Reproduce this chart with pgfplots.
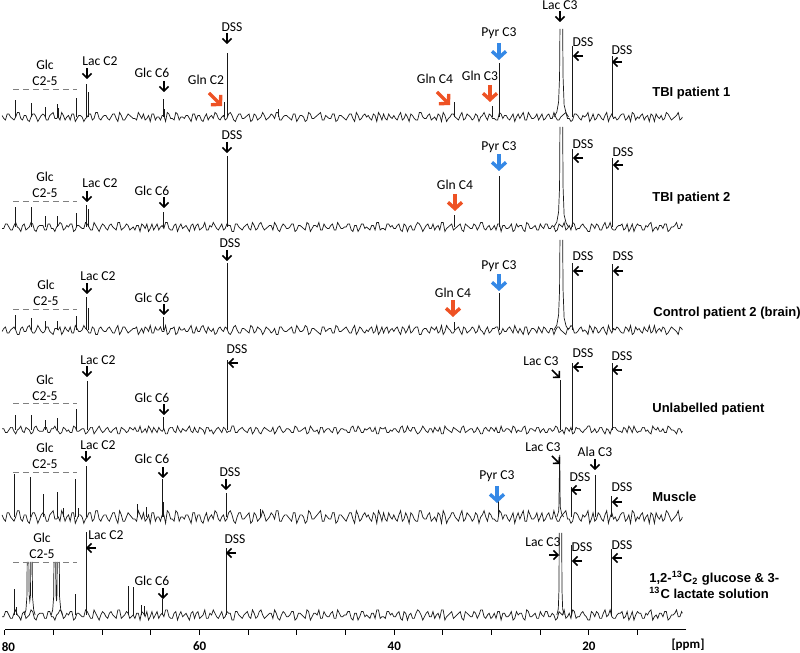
\documentclass[border=0pt]{standalone}
\usepackage{pgfplots}
\pgfplotsset{compat=1.18}
\usepackage{pgfplotstable}
\usepackage{fontspec}
\setmainfont{Carlito}
\newfontfamily\hv{Liberation Sans}
\usetikzlibrary{arrows.meta}

\definecolor{spec}{RGB}{25,25,25}
\definecolor{pyr}{RGB}{52,136,230}
\definecolor{gln}{RGB}{238,82,36}

% baseline noise, read off by eye (ppm, two traces)
\pgfplotstableread{
x c d
80.300 1 -1
80.125 -1 -1
79.950 -2 2
79.775 2 2
79.600 2 0
79.425 0 -2
79.250 -1 -2
79.075 -2 1
78.900 0 3
78.725 3 0
78.550 3 -1
78.375 -1 -3
78.200 -2 1
78.025 1 2
77.850 1 -2
77.675 -2 -1
77.500 -3 0
77.325 0 3
77.150 2 2
76.975 2 -2
76.800 0 -3
76.625 -3 0
76.450 -1 1
76.275 1 1
76.100 2 1
75.925 1 -2
75.750 -2 -2
75.575 -2 2
75.400 1 2
75.225 2 -1
75.050 3 -1
74.875 -1 -3
74.700 -1 0
74.525 0 1
74.350 -2 3
74.175 3 2
74.000 1 -2
73.825 -2 -1
73.650 0 1
73.475 1 0
73.300 -2 2
73.125 2 2
72.950 2 -3
72.775 -3 -2
72.600 -1 1
72.425 1 1
72.250 1 0
72.075 0 -1
71.900 -3 -1
71.725 -1 3
71.550 0 2
71.375 2 0
71.200 2 -2
71.025 -2 -2
70.850 -1 3
70.675 3 1
70.500 3 -1
70.325 -1 -3
70.150 -2 0
69.975 0 2
69.800 1 1
69.625 1 -1
69.450 -1 -2
69.275 -2 1
69.100 0 2
68.925 2 0
68.750 2 -1
68.575 -1 -2
68.400 -3 3
68.225 3 3
68.050 1 -2
67.875 -2 -1
67.700 -2 0
67.525 0 2
67.350 2 1
67.175 1 -2
67.000 0 -1
66.825 -1 0
66.650 -1 -2
66.475 -2 1
66.300 3 1
66.125 1 -3
65.950 -1 2
65.775 2 1
65.600 -2 -1
65.425 -1 2
65.250 1 -3
65.075 -3 -1
64.900 2 2
64.725 2 -2
64.550 -2 0
64.375 0 2
64.200 0 -2
64.025 -2 0
63.850 1 1
63.675 1 -1
63.500 -3 3
63.325 3 3
63.150 2 -1
62.975 -1 -2
62.800 -1 -2
62.625 -2 1
62.450 3 2
62.275 2 -3
62.100 -2 0
61.925 0 2
61.750 0 -1
61.575 -1 0
61.400 1 1
61.225 1 -1
61.050 -1 -3
60.875 -3 1
60.700 2 2
60.525 2 -2
60.350 -2 1
60.175 1 2
60.000 1 -2
59.825 -2 -1
59.650 -3 0
59.475 0 3
59.300 2 -2
59.125 -2 -2
58.950 0 1
58.775 1 0
58.600 -1 3
58.425 3 1
58.250 2 -1
58.075 -1 -2
57.900 -2 0
57.725 0 2
57.550 1 -2
57.375 -2 -1
57.200 -1 2
57.025 2 1
56.850 3 1
56.675 1 -3
56.500 -2 -3
56.325 -3 2
56.150 0 2
55.975 2 0
55.800 2 -1
55.625 -1 -2
55.450 -1 0
55.275 0 1
55.100 1 2
54.925 2 -1
54.750 -3 -2
54.575 -2 3
54.400 2 1
54.225 1 -2
54.050 -2 -1
53.875 -1 2
53.700 0 3
53.525 3 0
53.350 1 -2
53.175 -2 -1
53.000 -1 0
52.825 0 1
52.650 2 1
52.475 1 -2
52.300 -1 3
52.125 3 1
51.950 3 -2
51.775 -2 -3
51.600 -2 0
51.425 0 2
51.250 1 1
51.075 1 -1
50.900 0 -1
50.725 -1 0
50.550 -2 2
50.375 2 2
50.200 2 -3
50.025 -3 -2
49.850 -1 1
49.675 1 1
49.500 1 0
49.325 0 -1
49.150 -3 -2
48.975 -2 3
48.800 3 2
48.625 2 -3
48.450 -1 -1
48.275 -1 1
48.100 0 1
47.925 1 0
47.750 2 3
47.575 3 -2
47.400 -2 -2
47.225 -2 2
47.050 1 0
46.875 0 -1
46.700 -1 -1
46.525 -1 1
46.350 2 2
46.175 2 -2
46.000 -3 -2
45.825 -2 3
45.650 1 1
45.475 1 -1
45.300 0 -1
45.125 -1 0
44.950 -2 0
44.775 0 2
44.600 2 2
44.425 2 -2
44.250 -1 -3
44.075 -3 1
43.900 3 1
43.725 1 -3
43.550 -2 -1
43.375 -1 2
43.200 1 2
43.025 2 -1
42.850 0 0
42.675 1 -1
42.500 -1 -2
42.325 -2 1
42.150 2 1
41.975 1 -2
41.800 -3 3
41.625 3 3
41.450 1 -2
41.275 -2 -1
41.100 2 -1
40.925 -1 -2
40.750 -2 2
40.575 2 2
40.400 0 0
40.225 -1 1
40.050 1 -1
39.875 -1 -1
39.700 -2 1
39.525 1 2
39.350 3 -2
39.175 -2 -3
39.000 -1 2
38.825 2 1
38.650 0 -3
38.475 -3 0
38.300 2 1
38.125 1 -2
37.950 -1 -2
37.775 -2 1
37.600 -2 3
37.425 3 2
37.250 3 0
37.075 0 -3
36.900 -1 -1
36.725 -1 1
36.550 1 2
36.375 2 -1
36.200 -2 -1
36.025 -1 2
35.850 0 -2
35.675 -2 0
35.500 2 1
35.325 1 -2
35.150 -3 3
34.975 3 3
34.800 1 -3
34.625 -3 -1
34.450 -1 0
34.275 0 1
34.100 2 2
33.925 2 -2
33.750 0 -1
33.575 -1 0
33.400 -2 1
33.225 1 2
33.050 3 -2
32.875 -2 -3
32.700 -1 2
32.525 2 1
32.350 1 0
32.175 0 -1
32.000 -2 -1
31.825 -1 2
31.650 2 1
31.475 1 -2
31.300 -3 0
31.125 0 3
30.950 1 3
30.775 3 -1
30.600 0 -2
30.425 -2 0
30.250 2 1
30.075 1 -2
29.900 -1 -1
29.725 -1 1
29.550 -2 -2
29.375 -2 2
29.200 3 2
29.025 2 -3
28.850 -1 1
28.675 1 1
28.500 1 -1
28.325 -1 -1
28.150 -2 0
27.975 0 2
27.800 2 -3
27.625 -3 -2
27.450 0 2
27.275 2 0
27.100 -1 1
26.925 1 1
26.750 3 -2
26.575 -2 -3
26.400 -2 3
26.225 3 2
26.050 1 -1
25.875 -1 -1
25.700 -1 0
25.525 0 1
25.350 2 -2
25.175 -2 -2
25.000 0 2
24.825 2 0
24.650 -2 -1
24.475 -1 2
24.300 1 2
24.125 2 -1
23.950 -1 -1
23.775 -1 1
23.600 3 0
23.425 0 -3
23.250 -2 -2
23.075 -2 2
22.900 0 1
22.725 1 0
22.550 2 3
22.375 3 -2
22.200 -1 -1
22.025 -1 1
21.850 -3 -2
21.675 -2 3
21.500 2 2
21.325 2 -2
21.150 1 -1
20.975 -1 -1
20.800 -2 1
20.625 1 2
20.450 0 0
20.275 1 -1
20.100 3 -3
19.925 -3 -3
19.750 -1 2
19.575 2 1
19.400 -2 -1
19.225 -1 2
19.050 2 1
18.875 1 -2
18.700 -1 -2
18.525 -2 1
18.350 1 3
18.175 3 -1
18.000 -3 0
17.825 0 3
17.650 2 -1
17.475 -1 -2
17.300 0 -2
17.125 -2 0
16.950 -1 1
16.775 1 1
16.600 2 2
16.425 2 -2
16.250 -2 -1
16.075 -1 2
15.900 1 -3
15.725 -3 -1
15.550 3 2
15.375 2 -3
15.200 -2 0
15.025 0 2
14.850 -1 1
14.675 1 1
14.500 2 -2
14.325 -2 -2
14.150 0 1
13.975 1 0
13.800 -3 2
13.625 2 3
13.450 1 -3
13.275 -3 -1
13.100 2 0
12.925 0 -2
12.750 -1 1
12.575 1 1
12.400 -2 -1
12.225 -1 2
12.050 3 2
11.875 2 -3
11.700 0 -2
11.525 -2 0
11.350 -1 0
11.175 0 1
11.000 1 3
10.825 3 -1
10.650 -2 -1
10.475 -1 2
10.400 0 1
}\noise

\tikzset{
  lbl/.style={font=\fontsize{6.8pt}{8pt}\selectfont, inner sep=0pt},
  nm/.style={font=\hv\bfseries\fontsize{6.5pt}{8pt}\selectfont, anchor=west, inner sep=0pt},
  dn/.style={line width=0.8pt, -{Straight Barb[length=2.2pt,width=4.6pt]}},
  big/.style={line width=1.7pt, -{Straight Barb[length=3.2pt,width=7pt]}},
  s1/.style={yshift=256.5pt}, s2/.style={yshift=201.5pt},
  s3/.style={yshift=150pt}, s4/.style={yshift=100pt},
  s5/.style={yshift=56.5pt}, s6/.style={yshift=7.5pt},
}
% arrows, in picture pixels
\newcommand{\ad}[2]{\draw[dn] (#1,#2-6) -- (#1,#2+5);}
\newcommand{\al}[2]{\draw[dn] (#1+5,#2) -- (#1-5,#2);}
\newcommand{\ar}[2]{\draw[dn] (#1-5,#2) -- (#1+5,#2);}
\newcommand{\adr}[2]{\draw[dn] (#1-4,#2-4) -- (#1+4,#2+4);}
\newcommand{\bigd}[3]{\draw[big,#3] (#1,#2-9) -- (#1,#2+8);}
\newcommand{\bigdr}[3]{\draw[big,#3] (#1-7,#2-7) -- (#1+6,#2+6);}
\newcommand{\glc}[3]{%
  \node[lbl] at (#1,#2) {Glc};
  \node[lbl] at (#1,#2+16) {C2-5};
  \draw[gray, densely dashed, line width=0.4pt] (13,#3) -- (77,#3);}

\begin{document}
\begin{tikzpicture}
\useasboundingbox (-2.5pt,-11.5pt) rectangle (397.5pt,315pt);
\begin{axis}[
    scale only axis,
    width=340.65pt, height=315pt,
    xmin=10, xmax=80, ymin=0, ymax=630,
    x dir=reverse,
    clip=false,
    axis x line*=bottom,
    hide y axis,
    xtick={80,60,40,20},
    xticklabels={\hspace*{3.5pt}80,60,40,20},
    minor xtick={75,70,65,55,50,45,35,30,25,15},
    tick align=outside,
    major tick length=2.5pt, minor tick length=2.5pt,
    tick style={black, line width=0.5pt},
    axis line style={line width=0.5pt},
    xticklabel style={font=\bfseries\fontsize{6.5pt}{7pt}\selectfont},
    unbounded coords=jump,
    every axis plot/.append style={color=spec, line width=0.35pt},
]
% TBI patient 1
\addplot[s1] table[x=x, y expr=1.5*\thisrow{c}] {\noise};
\addplot[s1, ycomb] coordinates {(78.97,17) (77.3,14) (75.9,10) (74.6,13) (74.5,9) (72.7,19)
  (71.68,33) (71.45,25) (63.77,18) (63.65,8) (57.5,15) (57.2,64) (51.95,8)
  (33.87,15) (29.96,11) (29.25,54) (21.75,71) (17.64,61)};
\addplot[s1] coordinates {(23.6,0) (23.3,5) (23.12,15) (23.02,40) (22.98,88) (22.85,nan)
  (22.7,88) (22.66,40) (22.55,12) (22.35,4) (22.1,0)};
% TBI patient 2
\addplot[s2] table[x=x, y expr=1.5*\thisrow{d}] {\noise};
\addplot[s2, ycomb] coordinates {(78.97,20) (77.3,20) (75.9,11) (74.6,11) (72.7,14)
  (71.68,22) (71.45,18) (63.77,15) (57.2,71) (33.87,12) (29.25,51) (21.75,78) (17.64,69)};
\addplot[s2] coordinates {(23.6,0) (23.3,5) (23.12,15) (23.02,40) (22.98,100) (22.85,nan)
  (22.7,100) (22.66,40) (22.55,12) (22.35,4) (22.1,0)};
% Control patient 2
\addplot[s3] table[x=x, y expr=-1.5*\thisrow{c}] {\noise};
\addplot[s3, ycomb] coordinates {(78.97,15) (77.3,12) (75.9,9) (74.6,9) (72.7,14)
  (71.68,33) (71.45,22) (63.77,13) (57.2,67) (33.87,8) (29.25,37) (21.75,67) (17.64,66)};
\addplot[s3] coordinates {(23.6,0) (23.3,5) (23.12,15) (23.02,40) (22.98,90) (22.85,nan)
  (22.7,90) (22.66,40) (22.55,12) (22.35,4) (22.1,0)};
% Unlabelled patient
\addplot[s4] table[x=x, y expr=-1.3*\thisrow{d}] {\noise};
\addplot[s4, ycomb] coordinates {(78.97,15) (77.3,15) (75.9,10) (74.6,12) (72.7,21)
  (71.58,49) (63.77,13) (57.2,70) (22.9,50) (21.75,67) (17.64,67)};
% Muscle
\addplot[s5] table[x=x, y expr=2.1*\thisrow{c}] {\noise};
\addplot[s5, ycomb] coordinates {(79.08,43) (77.43,40) (76.1,23) (74.66,25) (74.04,9)
  (72.8,38) (72.5,9) (71.68,51) (66.44,13) (65.5,10) (63.84,38) (63.7,15) (57.3,24)
  (53.8,8) (29.35,17) (21.85,30) (19.38,42) (17.75,21)};
\addplot[s5] coordinates {(23.3,0) (23.1,6) (23.0,62) (22.95,10) (22.8,3) (22.6,0)};
% 1,2-13C2 glucose & 3-13C lactate solution
\addplot[s6] table[x=x, y expr=1.7*\thisrow{d}] {\noise};
\addplot[s6, ycomb] coordinates {(79.08,26) (78.85,8) (72.81,21) (71.68,83) (67.36,29)
  (66.85,28) (66.0,10) (65.7,9) (63.87,16) (57.3,67) (21.85,70) (17.75,66)};
\addplot[s6] coordinates {(78.0,0) (77.85,5) (77.75,18) (77.72,53) (77.63,nan)
  (77.55,53) (77.52,20) (77.45,14) (77.38,20) (77.35,53) (77.27,nan)
  (77.2,53) (77.17,18) (77.05,5) (76.9,0)};
\addplot[s6] coordinates {(75.25,0) (75.1,5) (75.0,18) (74.97,53) (74.88,nan)
  (74.79,53) (74.76,20) (74.7,14) (74.66,20) (74.63,53) (74.5,nan)
  (74.42,53) (74.39,18) (74.27,5) (74.1,0)};
\addplot[s6] coordinates {(23.3,0) (23.15,6) (23.08,25) (23.05,82) (22.95,nan)
  (22.8,82) (22.77,25) (22.7,6) (22.55,0)};
\end{axis}

\begin{scope}[x=0.5pt, y=-0.5pt, shift={(-2.5pt,315pt)}]
\node[font=\bfseries\fontsize{6.5pt}{7pt}\selectfont, inner sep=0pt] at (688,645) {[ppm]};
% TBI patient 1
\glc{45}{65}{89}
\node[lbl] at (100,61) {Lac C2}; \ad{87}{74}
\node[lbl] at (152,73) {Glc C6}; \ad{164}{87}
\node[lbl] at (206,80) {Gln C2}; \bigdr{216}{100}{gln}
\node[lbl] at (232,27) {DSS}; \ad{227}{39}
\node[lbl] at (435,79) {Gln C4}; \bigdr{444}{99}{gln}
\node[lbl] at (480,76) {Gln C3}; \bigd{490}{94}{gln}
\node[lbl] at (499,33) {Pyr C3}; \bigd{499}{52}{pyr}
\node[lbl] at (560,5) {Lac C3}; \ad{560}{17}
\node[lbl] at (583,42) {DSS}; \al{578}{56}
\node[lbl] at (622,50) {DSS}; \al{617}{62}
\node[nm] at (652,93) {TBI patient 1};
% TBI patient 2
\glc{45}{177}{201}
\node[lbl] at (100,183) {Lac C2}; \ad{87}{197}
\node[lbl] at (152,191) {Glc C6}; \ad{164}{203}
\node[lbl] at (232,135) {DSS}; \ad{227}{148}
\node[lbl] at (455,185) {Gln C4}; \bigd{455}{203}{gln}
\node[lbl] at (499,147) {Pyr C3}; \bigd{499}{163}{pyr}
\node[lbl] at (583,144) {DSS}; \al{578}{158}
\node[lbl] at (623,152) {DSS}; \al{618}{165}
\node[nm] at (652,198) {TBI patient 2};
% Control patient 2
\glc{46}{285}{309}
\node[lbl] at (98,276) {Lac C2}; \ad{87}{289}
\node[lbl] at (152,298) {Glc C6}; \ad{164}{310}
\node[lbl] at (230,243) {DSS}; \ad{227}{256}
\node[lbl] at (453,293) {Gln C4}; \bigd{453}{309}{gln}
\node[lbl] at (499,266) {Pyr C3}; \bigd{499}{283}{pyr}
\node[lbl] at (583,256) {DSS}; \al{578}{271}
\node[lbl] at (623,256) {DSS}; \al{618}{271}
\node[nm] at (653,313) {Control patient 2 (brain)};
% Unlabelled patient
\glc{45}{380}{403}
\node[lbl] at (98,360) {Lac C2}; \ad{87}{372}
\node[lbl] at (152,398) {Glc C6}; \ad{164}{410}
\node[lbl] at (237,349) {DSS}; \al{233}{363}
\node[lbl] at (541,361) {Lac C3}; \adr{556}{374}
\node[lbl] at (583,353) {DSS}; \al{578}{367}
\node[lbl] at (622,356) {DSS}; \al{617}{370}
\node[nm] at (652,409) {Unlabelled patient};
% Muscle
\glc{45}{448}{472}
\node[lbl] at (98,445) {Lac C2}; \ad{86}{457}
\node[lbl] at (152,459) {Glc C6}; \ad{163}{473}
\node[lbl] at (230,472) {DSS}; \ad{226}{485}
\node[lbl] at (497,476) {Pyr C3}; \bigd{497}{495}{pyr}
\node[lbl] at (543,447) {Lac C3}; \adr{556}{460}
\node[lbl] at (595,452) {Ala C3}; \ad{595}{465}
\node[lbl] at (580,477) {DSS}; \al{576}{490}
\node[lbl] at (622,487) {DSS}; \al{617}{502}
\node[nm] at (652,497) {Muscle};
% solution
\glc{42}{538}{562}
\node[lbl] at (106,535) {Lac C2}; \al{91}{548}
\node[lbl] at (152,581) {Glc C6}; \ad{163}{594}
\node[lbl] at (235,539) {DSS}; \al{231}{553}
\node[lbl] at (543,542) {Lac C3}; \ar{554}{555}
\node[lbl] at (582,547) {DSS}; \al{577}{561}
\node[lbl] at (622,545) {DSS}; \al{617}{558}
\node[nm] at (649,578) {1,2-\textsuperscript{13}C\textsubscript{2} glucose \& 3-};
\node[nm] at (649,593) {\textsuperscript{13}C lactate solution};
\end{scope}
\end{tikzpicture}
\end{document}
